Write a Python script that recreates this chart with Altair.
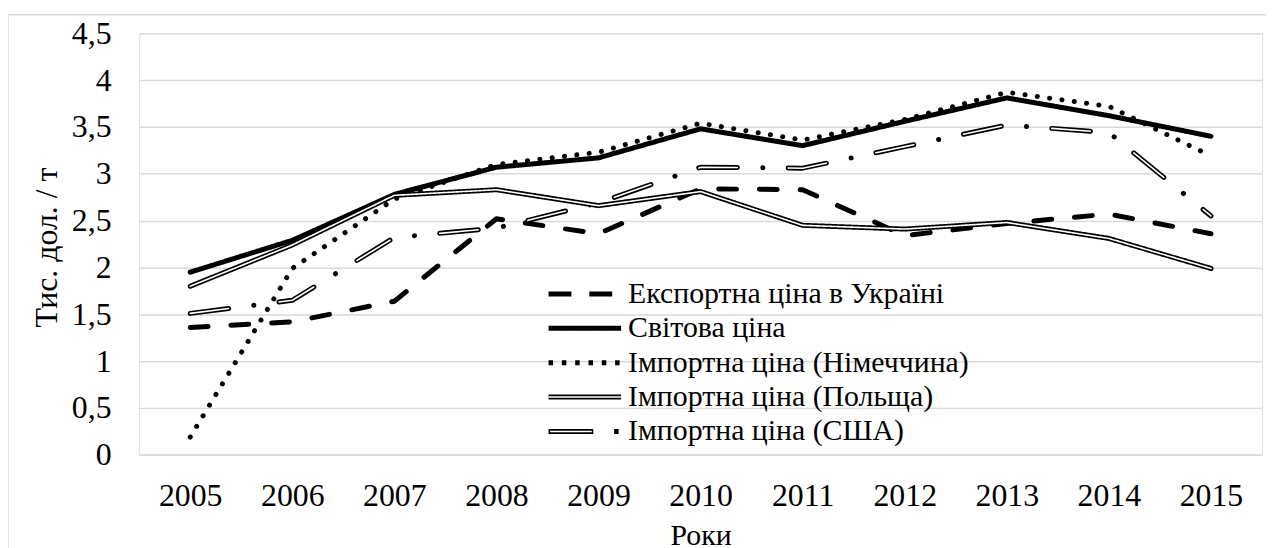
import altair as alt
import pandas as pd

# ---- data ----
years = ["2005", "2006", "2007", "2008", "2009", "2010", "2011", "2012", "2013", "2014", "2015"]
series_names = [
    "Експортна ціна в Україні",
    "Світова ціна",
    "Імпортна ціна (Німеччина)",
    "Імпортна ціна (Польща)",
    "Імпортна ціна (США)",
]
export_ua = [1.36, 1.42, 1.64, 2.52, 2.36, 2.84, 2.83, 2.34, 2.47, 2.57, 2.36]
world = [1.95, 2.29, 2.78, 3.07, 3.17, 3.48, 3.30, 3.56, 3.81, 3.62, 3.40]
germany = [0.19, 1.99, 2.73, 3.10, 3.23, 3.54, 3.36, 3.58, 3.87, 3.72, 3.19]
poland = [1.80, 2.24, 2.77, 2.83, 2.66, 2.81, 2.45, 2.41, 2.48, 2.31, 1.99]
usa = [1.51, 1.65, 2.32, 2.42, 2.69, 3.07, 3.06, 3.29, 3.52, 3.44, 2.55]
y_ticks = [0, 0.5, 1, 1.5, 2, 2.5, 3, 3.5, 4, 4.5]

rows = []
for name, vals in zip(series_names, [export_ua, world, germany, poland, usa]):
    for yr, v in zip(years, vals):
        rows.append({"Рік": yr, "Серія": name, "Ціна": v})
df = pd.DataFrame(rows)
df_double = df[df["Серія"].isin([series_names[3], series_names[4]])]
df_empty = df.iloc[0:0]

FONT = "Liberation Serif"
FS = 32      # digits and y title
FS_TXT = 30  # legend and x title
W = 1130
H = 424.3

x_enc = alt.X(
    "Рік:O",
    scale=alt.Scale(type="point", padding=0.5),
    axis=alt.Axis(
        title="Роки", labelAngle=0, labelFont=FONT, labelFontSize=FS, labelColor="black",
        labelPadding=50.5, labelBaseline="alphabetic", ticks=False, tickSize=0,
        domain=False, grid=False, titleFont=FONT, titleFontSize=FS_TXT,
        titleFontWeight="normal", titleColor="black", titleY=90,
        titleBaseline="alphabetic",
    ),
)
y_enc = alt.Y(
    "Ціна:Q",
    scale=alt.Scale(domain=[0, 4.5], nice=False, zero=True),
    axis=alt.Axis(
        values=y_ticks, labelExpr="replace(toString(datum.value), '.', ',')",
        title="Тис. дол. / т", grid=True, gridColor="#d9d9d9", gridWidth=1.5,
        domain=False, ticks=False, tickSize=0, labelPadding=28.3,
        labelFont=FONT, labelFontSize=FS, labelColor="black",
        titleFont=FONT, titleFontSize=FS, titleFontWeight="normal", titleColor="black",
        titleX=-93, titleY=H / 2 + 3, titleBaseline="middle",
    ),
)

# dash patterns for the plotted lines (round caps add the stroke width to each dash)
outer_dash = [[18, 23], [1, 0], [0.1, 12.4], [1, 0], [39, 25.5, 0.1, 25.4]]
inner_dash = [[1, 0], [1, 0], [1, 0], [1, 0], [39, 51]]
# dash patterns for the legend symbols (drawn with butt caps)
legend_outer_dash = [[23, 18], [1, 0], [4.5, 8.9], [1, 0], [45, 21, 4.5, 20]]
legend_inner_dash = [[1, 0], [1, 0], [1, 0], [1, 0], [0, 1.5, 42, 47]]

black5 = ["black"] * 5
inner_colors = ["transparent", "transparent", "transparent", "white", "white"]

# a 73 px long horizontal stroke as legend symbol (path scaled by sqrt(size)/2)
SYMBOL = "M-3.65,0L3.65,0"
legend_common = dict(
    title=None, orient="none", legendX=433.5, legendY=247.3, direction="vertical",
    symbolType=SYMBOL, symbolSize=400, labelFont=FONT, labelFontSize=FS_TXT,
    labelOffset=28.5, rowPadding=4.6, padding=0, labelLimit=800,
)
leg1 = alt.Legend(symbolStrokeWidth=5, labelColor="black", **legend_common)
leg2 = alt.Legend(symbolStrokeWidth=1.6, labelColor="transparent", **legend_common)


def series_scale(rng):
    return alt.Scale(domain=series_names, range=rng)


outer = alt.Chart(df).mark_line(strokeWidth=5, strokeJoin="round", strokeCap="round").encode(
    x=x_enc,
    y=y_enc,
    stroke=alt.Stroke("Серія:N", scale=series_scale(black5), legend=None),
    strokeDash=alt.StrokeDash("Серія:N", scale=series_scale(outer_dash), legend=None),
)

inner = alt.Chart(df_double).mark_line(strokeWidth=1.6, strokeJoin="round", strokeCap="round").encode(
    x=x_enc,
    y=y_enc,
    stroke=alt.Stroke("Серія:N", scale=series_scale(inner_colors), legend=None),
    strokeDash=alt.StrokeDash("Серія:N", scale=series_scale(inner_dash), legend=None),
)

# legend-only layers (no rows, legends built from the explicit scale domains)
legend_outer = alt.Chart(df_empty).mark_line(strokeWidth=5).encode(
    stroke=alt.Stroke("Серія:N", scale=series_scale(black5), legend=leg1),
    strokeDash=alt.StrokeDash("Серія:N", scale=series_scale(legend_outer_dash), legend=leg1),
)
legend_inner = alt.Chart(df_empty).mark_line(strokeWidth=1.6).encode(
    stroke=alt.Stroke("Серія:N", scale=series_scale(inner_colors), legend=leg2),
    strokeDash=alt.StrokeDash("Серія:N", scale=series_scale(legend_inner_dash), legend=leg2),
)

frame = alt.Chart(pd.DataFrame({"k": [0]})).mark_rect(
    filled=False, stroke="#d9d9d9", strokeWidth=1.5
).encode(
    x=alt.value(8 - 140), x2=alt.value(1500), y=alt.value(13 - 31.7), y2=alt.value(800)
)

chart = (
    alt.layer(frame, outer, inner, legend_outer, legend_inner)
    .resolve_scale(stroke="independent", strokeDash="independent")
    .resolve_legend(stroke="independent", strokeDash="independent")
    .properties(
        width=W, height=H,
        autosize=alt.AutoSizeParams(type="none"),
        padding={"left": 132, "top": 23.7, "right": 4, "bottom": 92},
        background="white",
    )
    .configure_view(strokeWidth=0)
    .configure(font=FONT)
)

chart.save("out.html", embed_options={"renderer": "svg", "actions": False})
